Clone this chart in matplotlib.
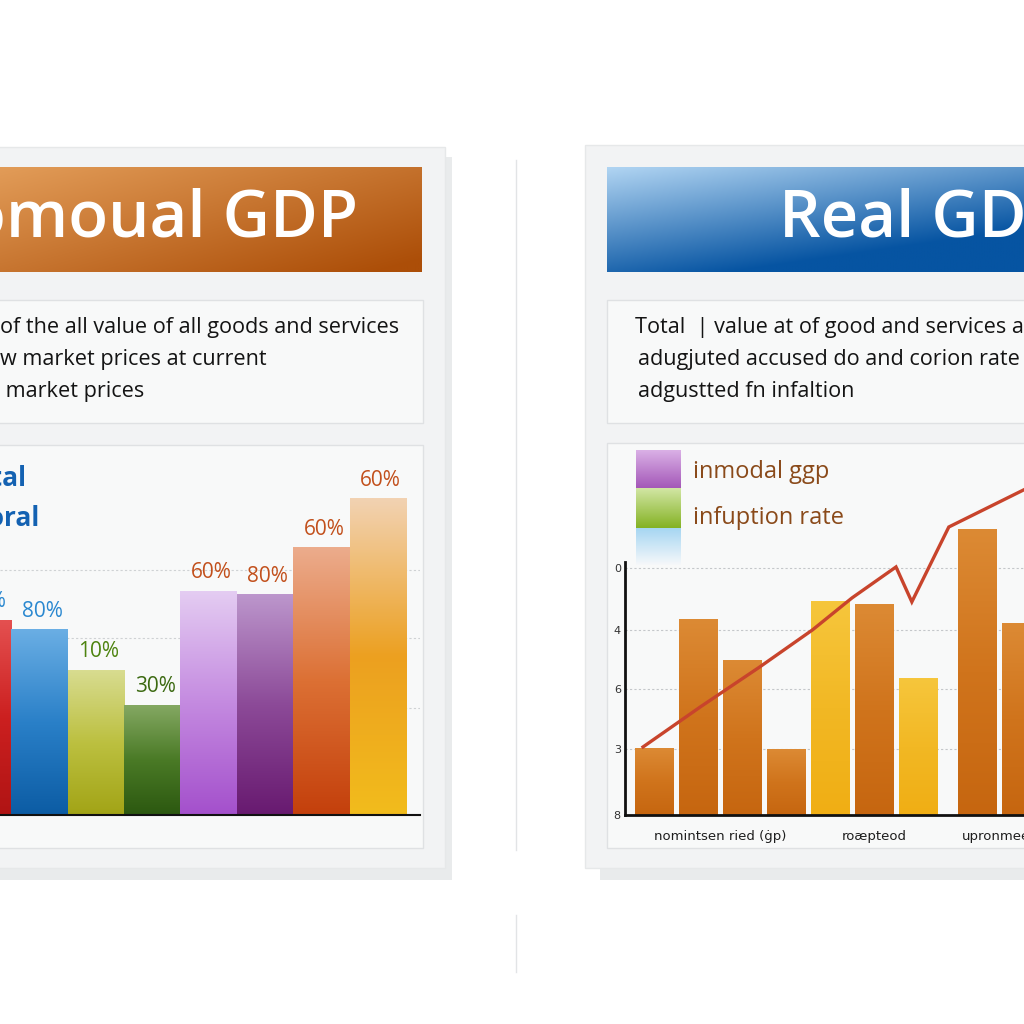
import numpy as np
import matplotlib
matplotlib.use('Agg')
import matplotlib.pyplot as plt
from matplotlib.patches import Rectangle
from matplotlib.colors import to_rgb

plt.rcParams['font.family'] = ['Open Sans', 'DejaVu Sans']

W = 1024

# left panel: nominal GDP bars
nom_values = [55.7, 52.9, 41.4, 31.4, 64.0, 62.9, 76.3, 90.3]
nom_labels = ['80%', '80%', '10%', '30%', '60%', '80%', '60%', '60%']
nom_label_colors = ['#2a88d0', '#2a88d0', '#4e8410', '#3c6a12',
                    '#c2501c', '#c2501c', '#c2501c', '#c2501c']
nom_colors = [('#e45050', '#cc2020', '#b01414'),
              ('#6aaee4', '#2a80c8', '#0c5ca4'),
              ('#d8dc90', '#bcc040', '#a2a416'),
              ('#84a862', '#4a7a26', '#2c5810'),
              ('#e4ccf2', '#c48ae0', '#a450cc'),
              ('#bc96cc', '#8c4a98', '#681a70'),
              ('#ecac8c', '#dc7034', '#c4400c'),
              ('#f2d2b2', '#eca020', '#f2bc1c')]
nom_legend = ['Total', 'Nomoral']

# right panel: real GDP bars + line
real_groups = ['nomintsen ried (ġp)', 'roæpteod', 'upronmeed']
real_values = [[18.6, 54.2, 43.0, 18.3], [59.2, 58.6, 38.0], [79.4, 53.3]]
real_kinds = [['o', 'o', 'o', 'o'], ['y', 'o', 'y'], ['o', 'o']]
line_x = [-0.25, 1.05, 2.4, 3.6, 4.5, 5.5, 5.86, 6.7, 8.4]
line_y = [18.9, 30.0, 41.1, 51.4, 60.3, 68.9, 59.2, 80.0, 90.3]
y_ticks = [0, 18.3, 35.0, 51.4, 68.6]
y_ticklabels = ['8', '3', '6', '4', '0']
real_legend = ['inmodal ggp', 'infuption rate']

desc_left = ['of the all value of all goods and services',
             'w market prices at current',
             ' market prices']
desc_right = ['Total  | value at of good and services at coo',
              'adugjuted accused do and corion rate',
              'adgustted fn infaltion']

kind_colors = {'o': ('#dc8a34', '#d0741c', '#c66610'),
               'y': ('#f6c63c', '#f2b824', '#f0ae14')}


def px_rect(x0, y0, x1, y1):
    return [x0 / W, 1 - y1 / W, (x1 - x0) / W, (y1 - y0) / W]


def grad_box(ax, x0, y0, x1, y1, c0, c1, wx=0.0, wy=1.0, z=2, n=64):
    X, Y = np.meshgrid(np.linspace(0, 1, n), np.linspace(0, 1, n))
    t = np.clip(wx * X + wy * Y, 0, 1)[..., None]
    a = np.array(to_rgb(c0))
    b = np.array(to_rgb(c1))
    img = a * (1 - t) + b * t
    ax.imshow(img, extent=[x0, x1, y1, y0], origin='upper', aspect='auto',
              zorder=z, interpolation='bilinear')


def shade_bars(ax, bars, stops):
    for b, cols in zip(bars, stops):
        x0, y0, w, h = b.get_x(), b.get_y(), b.get_width(), b.get_height()
        c = np.array([to_rgb(cc) for cc in cols])
        pos = np.linspace(0, 1, len(cols))
        t = np.linspace(0, 1, 128)
        img = np.stack([np.interp(t, pos, c[:, k]) for k in range(3)], axis=-1)[:, None, :]
        ax.imshow(img, extent=[x0, x0 + w, y0, y0 + h], origin='upper',
                  aspect='auto', zorder=b.get_zorder() + 0.1, interpolation='bilinear')


fig = plt.figure(figsize=(10.24, 10.24), dpi=100, facecolor='white')
bg = fig.add_axes([0, 0, 1, 1])
bg.axis('off')

# cards and shadows
bg.add_patch(Rectangle((-5, 157), 457, 723, fc='#e9ebec', ec='none', zorder=0))
bg.add_patch(Rectangle((-5, 147), 450, 721, fc='#f2f3f4', ec='#e6e8e9', lw=1, zorder=1))
bg.add_patch(Rectangle((600, 157), 430, 723, fc='#e9ebec', ec='none', zorder=0))
bg.add_patch(Rectangle((585, 145), 445, 723, fc='#f2f3f4', ec='#e6e8e9', lw=1, zorder=1))

# divider
bg.plot([516, 516], [160, 850], color='#e2e4e6', lw=1, zorder=1)
bg.plot([516, 516], [915, 972], color='#e2e4e6', lw=1, zorder=1)

# inner boxes
for (x0, y0, x1, y1) in [(-3, 300, 423, 423), (-3, 445, 423, 848),
                         (607, 300, 1030, 423), (607, 443, 1030, 848)]:
    bg.add_patch(Rectangle((x0, y0), x1 - x0, y1 - y0, fc='#f8f9f9',
                           ec='#dfe1e3', lw=1, zorder=2))

# title bars
grad_box(bg, -3, 167, 422, 272, '#e29c58', '#ac4e08', wx=0.55, wy=0.5, z=3)
grad_box(bg, 607, 167, 1030, 272, '#b0d4f2', '#0654a2', wx=0.5, wy=0.85, z=3)
bg.text(358, 220, 'Nomoual GDP', ha='right', va='center', fontsize=47,
        fontweight='semibold', color='white', zorder=4)
bg.text(779, 220, 'Real GDP', ha='left', va='center', fontsize=47,
        fontweight='semibold', color='white', zorder=4)

# descriptions
for i, line in enumerate(desc_left):
    bg.text(0, 328 + i * 31.5, line, ha='left', va='center', fontsize=15.6,
            color='#141414', zorder=4)
for i, line in enumerate(desc_right):
    bg.text(635 if i == 0 else 638, 328 + i * 31.5, line, ha='left', va='center',
            fontsize=15.6, color='#141414', zorder=4)

# left legend fragments
bg.text(26, 478, nom_legend[0], ha='right', va='center', fontsize=19,
        fontweight='bold', color='#1462b2', zorder=4)
bg.text(40, 518, nom_legend[1], ha='right', va='center', fontsize=19,
        fontweight='bold', color='#1462b2', zorder=4)

# right legend
grad_box(bg, 636, 450, 681, 488, '#dab0e6', '#a458b8', z=3)
grad_box(bg, 636, 488, 681, 528, '#d2e6a4', '#84b224', z=3)
grad_box(bg, 636, 528, 681, 565, '#a6d6f2', '#f6f8fa', z=3)
bg.text(693, 472, real_legend[0], ha='left', va='center', fontsize=17,
        color='#8a4a1a', zorder=4)
bg.text(693, 518, real_legend[1], ha='left', va='center', fontsize=17,
        color='#8a4a1a', zorder=4)

bg.set_xlim(0, W)
bg.set_ylim(W, 0)

# ---- left chart
ax1 = fig.add_axes(px_rect(0, 465, 420, 815))
ax1.patch.set_alpha(0)
xs = np.arange(len(nom_values))
bars1 = ax1.bar(xs, nom_values, width=1.0, color=[c[1] for c in nom_colors],
                zorder=2)
shade_bars(ax1, bars1, nom_colors)
for y in [30.6, 50.6, 70.0]:
    ax1.axhline(y, color='#cfd2d4', lw=0.8, ls=(0, (2, 2)), zorder=0.5)
for i, (v, lab, c) in enumerate(zip(nom_values, nom_labels, nom_label_colors)):
    ax1.text(i + 0.05, v + 2.2, lab, ha='center', va='bottom', fontsize=15,
             color=c, zorder=5, clip_on=False)
for s in ['top', 'left', 'right']:
    ax1.spines[s].set_visible(False)
ax1.spines['bottom'].set_color('#111111')
ax1.spines['bottom'].set_linewidth(1.5)
ax1.set_xticks([])
ax1.set_yticks([])
ax1.set_xlim(0.301, 7.748)
ax1.set_ylim(0, 100)

# ---- right chart
ax2 = fig.add_axes(px_rect(625, 455, 1024, 815))
ax2.patch.set_alpha(0)
group_gap = [0.0, 0.36, 0.0]
positions, heights, stops, centers = [], [], [], []
start = 0.0
for g, vals in enumerate(real_values):
    p = start + np.arange(len(vals))
    positions.extend(p)
    heights.extend(vals)
    stops.extend(kind_colors[k] for k in real_kinds[g])
    centers.append(p.mean())
    start += len(vals) + group_gap[g]
bars2 = ax2.bar(positions, heights, width=0.886,
                color=[s[1] for s in stops], zorder=2)
shade_bars(ax2, bars2, stops)
for y in y_ticks[1:]:
    ax2.axhline(y, color='#c4c7ca', lw=0.8, ls=(0, (2, 2)), zorder=0.5)
ax2.plot(line_x, line_y, color='#c8442c', lw=2.4, zorder=5,
         solid_joinstyle='miter')
ax2.spines['top'].set_visible(False)
ax2.spines['right'].set_visible(False)
ax2.spines['left'].set_bounds(0, 70.3)
for s in ['left', 'bottom']:
    ax2.spines[s].set_color('#111111')
    ax2.spines[s].set_linewidth(2)
ax2.set_yticks(y_ticks, y_ticklabels)
ax2.set_xticks(centers, real_groups)
ax2.tick_params(axis='y', length=0, labelsize=8, pad=3, labelcolor='#333333')
ax2.tick_params(axis='x', length=0, labelsize=9.5, pad=11, labelcolor='#1e1e1e')
for t in ax2.get_yticklabels() + ax2.get_xticklabels():
    t.set_family(['DejaVu Sans'])
ax2.set_xlim(-0.659, 8.409)
ax2.set_ylim(0, 100)

fig.savefig('out.png', dpi=100, facecolor='white')
